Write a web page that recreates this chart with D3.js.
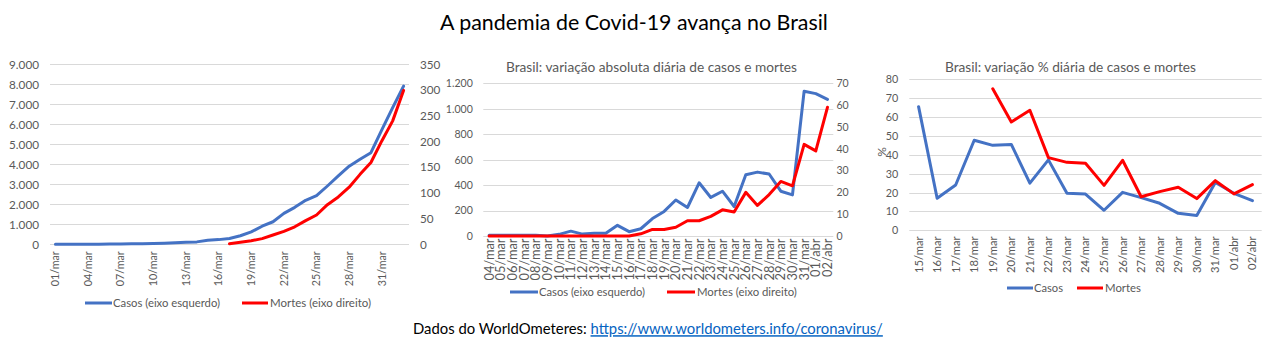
<!DOCTYPE html>
<html><head><meta charset="utf-8">
<script src="https://cdn.jsdelivr.net/npm/d3@7"></script>
<style>
html,body{margin:0;padding:0;background:#fff;}
svg{display:block;font-family:Lato, "Open Sans", sans-serif;}
</style></head>
<body>
<svg id="c" width="1267" height="346"></svg>
<script>
// ---------- DATA ----------
const catsAcum = ["01/mar","02/mar","03/mar","04/mar","05/mar","06/mar","07/mar","08/mar","09/mar","10/mar","11/mar","12/mar","13/mar","14/mar","15/mar","16/mar","17/mar","18/mar","19/mar","20/mar","21/mar","22/mar","23/mar","24/mar","25/mar","26/mar","27/mar","28/mar","29/mar","30/mar","31/mar","01/abr","02/abr"];
const casosAcum = [2,2,2,3,8,13,19,25,25,34,52,77,98,121,200,234,291,428,621,904,1128,1546,1849,2201,2433,2915,3417,3904,4256,4579,5717,6836,7910];
const mortesAcum = [null,null,null,null,null,null,null,null,null,null,null,null,null,null,null,null,1,4,7,11,18,25,34,46,57,77,92,111,136,159,201,240,299];
const ticksAcumEsq = [0,1000,2000,3000,4000,5000,6000,7000,8000,9000];
const ticksAcumDir = [0,50,100,150,200,250,300,350];

const catsDia = ["04/mar","05/mar","06/mar","07/mar","08/mar","09/mar","10/mar","11/mar","12/mar","13/mar","14/mar","15/mar","16/mar","17/mar","18/mar","19/mar","20/mar","21/mar","22/mar","23/mar","24/mar","25/mar","26/mar","27/mar","28/mar","29/mar","30/mar","31/mar","01/abr","02/abr"];
const casosDia = [5,5,5,5,5,0,13,38,15,21,21,84,34,57,137,193,283,224,418,303,352,232,482,502,487,352,323,1138,1119,1074];
const mortesDia = [0,0,0,0,0,0,0,0,0,0,0,0,0,1,3,3,4,7,7,9,12,11,20,14,19,25,23,42,39,59];
const ticksDiaEsq = [0,200,400,600,800,1000,1200];
const ticksDiaDir = [0,10,20,30,40,50,60,70];

const catsPct = ["15/mar","16/mar","17/mar","18/mar","19/mar","20/mar","21/mar","22/mar","23/mar","24/mar","25/mar","26/mar","27/mar","28/mar","29/mar","30/mar","31/mar","01/abr","02/abr"];
const casosPct = [65.5,17,24,47.7,45,45.5,25,37.3,19.6,19.2,10.6,20.1,17.3,14.3,9,7.9,25.3,19.6,15.7];
const mortesPct = [null,null,null,null,75,57.4,63.6,38.5,36,35.5,23.8,37.1,17.8,20.5,22.8,16.8,26.3,19.3,24.2];
const ticksPct = [0,10,20,30,40,50,60,70,80];

const tituloGeral = "A pandemia de Covid-19 avança no Brasil";
const tituloDia = "Brasil: variação absoluta diária de casos e mortes";
const tituloPct = "Brasil: variação % diária de casos e mortes";
const legAcum = ["Casos (eixo esquerdo)", "Mortes (eixo direito)"];
const legPct = ["Casos", "Mortes"];
const fonteTxt = "Dados do WorldOmeteres: ";
const fonteUrl = "https://www.worldometers.info/coronavirus/";

// ---------- DRAW ----------
const BLUE = "#4472C4", RED = "#FF0000", GRID = "#D9D9D9", GRAY = "#595959";
const svg = d3.select("#c");
svg.append("rect").attr("width",1267).attr("height",346).attr("fill","#fff");
const fmt = v => d3.format(",")(v).replace(/,/g,".");

function fitText(sel, w){
  const n = sel.node(); const L = n.getComputedTextLength();
  const fs = parseFloat(sel.attr("font-size"));
  sel.attr("font-size", (fs*w/L).toFixed(2));
}
// scale all texts in a selection so that the first one has width w
function fitAll(sel, w){
  const n = sel.node(); const L = n.getComputedTextLength();
  const fs = parseFloat(d3.select(n).attr("font-size"));
  sel.attr("font-size", (fs*w/L).toFixed(2));
}

function drawChart(c){
  const g = svg.append("g");
  const x = d3.scaleBand().domain(c.cats).range([c.x0, c.x1]);
  const yL = d3.scaleLinear().domain([0, c.maxL]).range([c.yb, c.yt]);
  const yR = c.maxR ? d3.scaleLinear().domain([0, c.maxR]).range([c.yb, c.yt]) : yL;
  // grid
  g.selectAll("line.grid").data(c.ticksL).join("line")
    .attr("x1", c.x0).attr("x2", c.x1)
    .attr("y1", d => Math.round(yL(d))+0.5).attr("y2", d => Math.round(yL(d))+0.5)
    .attr("stroke", GRID).attr("stroke-width",1);
  // left axis
  const al = g.append("g").attr("transform", `translate(${c.x0 - c.gapL},0)`)
    .call(d3.axisLeft(yL).tickValues(c.ticksL).tickFormat(fmt).tickSize(0).tickPadding(0));
  al.select(".domain").remove();
  const alt = al.selectAll("text").attr("fill", GRAY).attr("font-size", 12).attr("font-family","Lato");
  // sort so the widest (top) label is measured first
  const topL = al.selectAll("text").filter(d => d === c.ticksL[c.ticksL.length-1]);
  const Ltop = topL.node().getComputedTextLength();
  alt.attr("font-size", (12*c.wY/Ltop).toFixed(2));
  const fsY = 12*c.wY/Ltop;
  if (c.ticksR){
    const ar = g.append("g").attr("transform", `translate(${c.xR},0)`)
      .call(d3.axisRight(yR).tickValues(c.ticksR).tickFormat(fmt).tickSize(0).tickPadding(0));
    ar.select(".domain").remove();
    ar.selectAll("text").attr("fill", GRAY).attr("font-size", fsY.toFixed(2)).attr("font-family","Lato");
  }
  // x axis labels
  const ax = g.append("g").attr("transform", `translate(0,${c.yb})`)
    .call(d3.axisBottom(x).tickValues(c.cats.filter((d,i)=> i % c.step === 0)).tickSize(0));
  ax.select(".domain").remove();
  const xt = ax.selectAll("text")
    .attr("fill", GRAY).attr("font-size", 12).attr("font-family","Lato")
    .attr("text-anchor","end").attr("dy","0.35em").attr("y",0).attr("x",0)
    .attr("transform", `translate(0,${c.labGap}) rotate(-90)`);
  fitAll(xt, c.wX);
  // lines
  const pathFor = (vals, sc) => d3.line()
    .defined(d => d.v != null)
    .x(d => x(d.k) + x.bandwidth()/2).y(d => sc(d.v))(c.cats.map((k,i)=>({k, v: vals[i]})));
  g.append("path").attr("d", pathFor(c.s1, yL)).attr("fill","none").attr("stroke",BLUE)
    .attr("stroke-width",3).attr("stroke-linejoin","round").attr("stroke-linecap","round");
  g.append("path").attr("d", pathFor(c.s2, yR)).attr("fill","none").attr("stroke",RED)
    .attr("stroke-width",3).attr("stroke-linejoin","round").attr("stroke-linecap","round");
  // title
  if (c.title){
    const t = g.append("text").attr("x", c.title.x).attr("y", c.title.y).attr("dy","0.35em")
      .attr("fill", GRAY).attr("font-size", 13).attr("font-family","Lato").text(c.title.text);
    fitText(t, c.title.w);
  }
  // legend
  c.legend.forEach((L, i) => {
    g.append("line").attr("x1", L.lx0).attr("x2", L.lx1).attr("y1", c.legY).attr("y2", c.legY)
      .attr("stroke", i===0?BLUE:RED).attr("stroke-width",3);
    const t = g.append("text").attr("x", L.tx).attr("y", c.legY).attr("dy","0.35em")
      .attr("fill", GRAY).attr("font-size", 11).attr("font-family","Lato").text(L.text);
    fitText(t, L.tw);
  });
  return g;
}

// Main title
const tt = svg.append("text").attr("x", 440).attr("y", 23).attr("dy","0.35em")
  .attr("font-size", 20).attr("font-family","Lato").attr("fill","#000").text(tituloGeral);
fitText(tt, 388);

// Chart 1: cumulative
drawChart({
  cats: catsAcum, s1: casosAcum, s2: mortesAcum,
  x0: 50, x1: 409, yt: 64.3, yb: 244.3, maxL: 9000, maxR: 350,
  ticksL: ticksAcumEsq, ticksR: ticksAcumDir, gapL: 11, xR: 420,
  wY: 30, wX: 35, step: 3, labGap: 7,
  legY: 303,
  legend: [
    {lx0: 85, lx1: 112, tx: 113, tw: 107, text: legAcum[0]},
    {lx0: 242, lx1: 268, tx: 270, tw: 101, text: legAcum[1]}
  ]
});

// Chart 2: daily absolute
drawChart({
  cats: catsDia, s1: casosDia, s2: mortesDia,
  x0: 483.3, x1: 833.3, yt: 83.3, yb: 236, maxL: 1200, maxR: 70,
  ticksL: ticksDiaEsq, ticksR: ticksDiaDir, gapL: 10.5, xR: 836.5,
  wY: 27, wX: 42, step: 1, labGap: 2.5,
  title: {x: 506, y: 67, w: 291, text: tituloDia},
  legY: 292,
  legend: [
    {lx0: 510, lx1: 538, tx: 539, tw: 106, text: legAcum[0]},
    {lx0: 667, lx1: 695, tx: 697, tw: 100, text: legAcum[1]}
  ]
});

// Chart 3: daily %
drawChart({
  cats: catsPct, s1: casosPct, s2: mortesPct,
  x0: 909.3, x1: 1261.7, yt: 79.3, yb: 230.3, maxL: 80, maxR: null,
  ticksL: ticksPct, ticksR: null, gapL: 11,
  wY: 12.5, wX: 36.7, step: 1, labGap: 6,
  title: {x: 945, y: 67, w: 251, text: tituloPct},
  legY: 288,
  legend: [
    {lx0: 1007, lx1: 1033, tx: 1034, tw: 29, text: legPct[0]},
    {lx0: 1077, lx1: 1103, tx: 1105, tw: 36, text: legPct[1]}
  ]
});
// % axis label
svg.append("text").attr("transform","translate(881.5,152) rotate(-90)")
  .attr("text-anchor","middle").attr("dy","0.35em").attr("fill", GRAY)
  .attr("font-size", 12).attr("font-family","Lato").text("%");

// Footer
const ft = svg.append("text").attr("x", 413).attr("y", 329).attr("dy","0.35em")
  .attr("font-size", 15).attr("font-family","Lato").attr("fill","#000");
ft.append("tspan").text(fonteTxt);
ft.append("tspan").attr("fill","#0563C1").attr("text-decoration","underline")
  .style("text-decoration","underline").text(fonteUrl);
fitText(ft, 470);
</script>
</body></html>
